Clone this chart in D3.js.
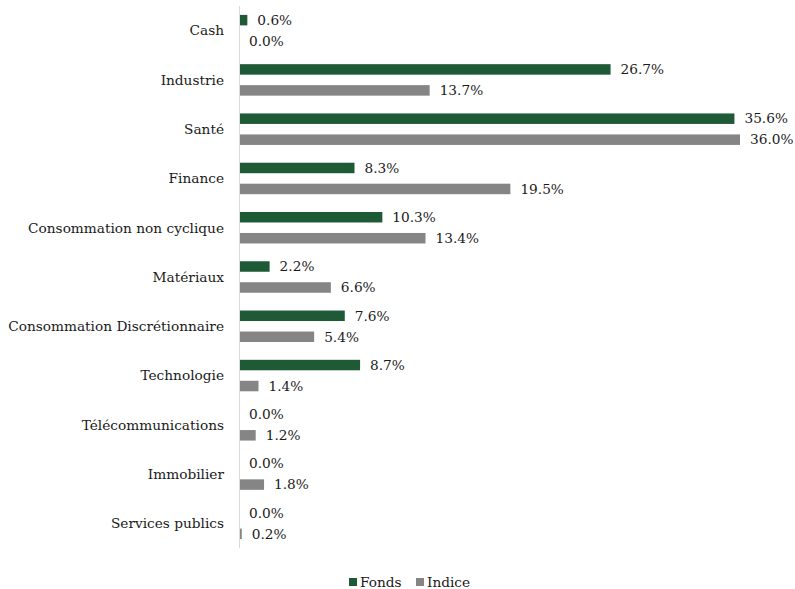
<!DOCTYPE html>
<meta charset="utf-8">
<html>
<body style="margin:0;background:#fff">
<div id="chartContainer"></div>
<script src="https://d3js.org/d3.v7.min.js"></script>
<script>
  var categories = ["Cash", "Industrie", "Santé", "Finance", "Consommation non cyclique", "Matériaux",
    "Consommation Discrétionnaire", "Technologie", "Télécommunications", "Immobilier", "Services publics"];
  var series = ["Fonds", "Indice"];
  var fonds = [0.6, 26.7, 35.6, 8.3, 10.3, 2.2, 7.6, 8.7, 0.0, 0.0, 0.0];
  var indice = [0.0, 13.7, 36.0, 19.5, 13.4, 6.6, 5.4, 1.4, 1.2, 1.8, 0.2];
  var colors = ["#1f5a36", "#858585"];

  var W = 795, H = 589;
  var font = "'DejaVu Serif', serif";
  var fs = "13.7px";
  var svg = d3.select("#chartContainer").append("svg")
    .attr("width", W).attr("height", H);

  var x = d3.scaleLinear().domain([0, 36]).range([239, 740]);
  var y = d3.scaleBand().domain(categories).range([6, 548]);
  var inner = d3.scaleBand().domain(series).range([0, y.bandwidth()])
    .paddingInner(0.5).paddingOuter(0.424);

  var rows = categories.map(function (c, i) {
    return { cat: c, values: [fonds[i], indice[i]] };
  });

  var groups = svg.selectAll("g.cat").data(rows).enter().append("g")
    .attr("class", "cat")
    .attr("transform", function (d) { return "translate(0," + y(d.cat) + ")"; });

  groups.selectAll("rect").data(function (d) { return d.values; }).enter().append("rect")
    .attr("x", x(0))
    .attr("y", function (d, i) { return inner(series[i]); })
    .attr("width", function (d) { return x(d) - x(0); })
    .attr("height", inner.bandwidth())
    .attr("fill", function (d, i) { return colors[i]; });

  groups.selectAll("text.val").data(function (d) { return d.values; }).enter().append("text")
    .attr("class", "val")
    .attr("x", function (d) { return x(d) + 10; })
    .attr("y", function (d, i) { return inner(series[i]) + inner.bandwidth() / 2; })
    .attr("dy", "0.35em")
    .style("font-family", font)
    .style("font-size", fs)
    .style("fill", "#1a1a1a")
    .text(function (d) { return d.toFixed(1) + "%"; });

  // category labels
  svg.selectAll("text.cat").data(categories).enter().append("text")
    .attr("class", "cat")
    .attr("x", 224)
    .attr("y", function (d) { return y(d) + y.bandwidth() / 2; })
    .attr("dy", "0.35em")
    .attr("text-anchor", "end")
    .style("font-family", font)
    .style("font-size", fs)
    .style("fill", "#1a1a1a")
    .text(function (d) { return d; });

  // axis line
  svg.append("line")
    .attr("x1", x(0) + 0.5).attr("x2", x(0) + 0.5)
    .attr("y1", y.range()[0]).attr("y2", y.range()[1])
    .attr("stroke", "#d9d9d9").attr("stroke-width", 1);

  // legend
  var legX = [349, 416];
  var leg = svg.selectAll("g.leg").data(series).enter().append("g")
    .attr("class", "leg")
    .attr("transform", function (d, i) { return "translate(" + legX[i] + ",578)"; });
  leg.append("rect").attr("width", 8).attr("height", 8)
    .attr("fill", function (d, i) { return colors[i]; });
  leg.append("text").attr("x", 11).attr("y", 4).attr("dy", "0.35em")
    .style("font-family", font)
    .style("font-size", fs)
    .style("fill", "#1a1a1a")
    .text(function (d) { return d; });
</script>
</body>
</html>
